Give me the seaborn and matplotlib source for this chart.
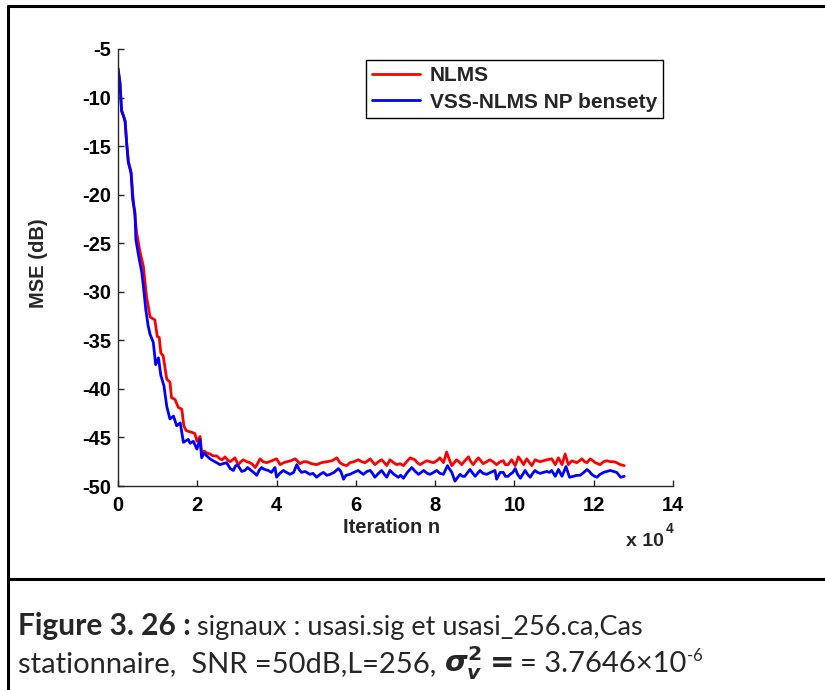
import numpy as np
import pandas as pd
import matplotlib
matplotlib.use("Agg")
import matplotlib.pyplot as plt
import seaborn as sns
from matplotlib.lines import Line2D

# ---------------- data (x in units of 10^4 iterations, MSE in dB) ----------------
nlms_x = [0.00, 0.05, 0.09, 0.14, 0.18, 0.22, 0.26, 0.30, 0.33, 0.37, 0.40, 0.47, 0.55, 0.64,
          0.72, 0.81, 0.93, 0.99, 1.04, 1.08, 1.14, 1.23, 1.31, 1.35, 1.44, 1.52, 1.61, 1.66,
          1.72, 1.80, 1.88, 1.94, 1.99, 2.07, 2.11, 2.17, 2.24, 2.32, 2.40, 2.49, 2.57, 2.63,
          2.70, 2.76, 2.83, 2.95, 3.03, 3.10, 3.16, 3.25, 3.33, 3.40, 3.46, 3.52, 3.58, 3.66,
          3.75, 3.88, 4.00, 4.09, 4.18, 4.26, 4.36, 4.47, 4.59, 4.68, 4.76, 4.88, 5.01, 5.13,
          5.26, 5.40, 5.52, 5.60, 5.68, 5.77, 5.85, 5.95, 6.06, 6.15, 6.23, 6.30, 6.36, 6.42,
          6.48, 6.57, 6.65, 6.72, 6.78, 6.86, 6.95, 7.03, 7.12, 7.20, 7.28, 7.37, 7.49, 7.55,
          7.62, 7.70, 7.79, 7.87, 7.96, 8.04, 8.12, 8.21, 8.29, 8.35, 8.42, 8.48, 8.54, 8.60,
          8.67, 8.75, 8.84, 8.90, 8.96, 9.03, 9.09, 9.15, 9.21, 9.30, 9.38, 9.46, 9.55, 9.64,
          9.72, 9.77, 9.84, 9.93, 10.02, 10.10, 10.17, 10.23, 10.31, 10.38, 10.44, 10.52, 10.58,
          10.65, 10.73, 10.82, 10.94, 11.03, 11.11, 11.20, 11.28, 11.36, 11.45, 11.57, 11.64,
          11.70, 11.77, 11.83, 11.91, 11.98, 12.04, 12.16, 12.25, 12.33, 12.42, 12.50, 12.58,
          12.67, 12.77]
nlms_mse = [-7.0, -8.5, -11.3, -11.9, -12.4, -14.7, -16.5, -17.2, -17.7, -19.8, -21.2, -23.9,
            -25.8, -27.4, -30.5, -32.6, -32.9, -34.6, -34.7, -36.3, -36.6, -39.0, -39.3, -40.9,
            -41.1, -41.9, -42.1, -43.8, -44.3, -44.4, -44.5, -44.6, -45.4, -44.9, -46.6, -46.4,
            -46.6, -46.7, -46.9, -46.9, -47.2, -47.3, -47.0, -47.3, -47.5, -47.1, -47.8, -47.5,
            -47.3, -47.5, -47.6, -47.8, -48.1, -47.7, -47.2, -47.5, -47.6, -47.4, -47.2, -47.8,
            -47.6, -47.5, -47.4, -47.2, -47.7, -47.5, -47.5, -47.7, -47.8, -47.6, -47.5, -47.4,
            -47.1, -47.6, -47.8, -47.9, -47.6, -47.5, -47.3, -47.5, -47.6, -47.4, -47.2, -47.5,
            -47.8, -47.5, -47.3, -47.6, -47.9, -47.3, -47.6, -47.8, -47.7, -47.9, -47.5, -47.1,
            -47.3, -47.6, -47.8, -47.6, -47.4, -47.5, -47.6, -47.4, -47.1, -47.6, -46.5, -47.2,
            -47.9, -47.6, -47.3, -47.5, -47.8, -47.4, -47.0, -47.5, -47.8, -47.4, -47.1, -47.4,
            -47.7, -47.5, -47.3, -47.5, -47.8, -47.5, -47.4, -47.8, -47.8, -47.3, -47.9, -47.0,
            -47.4, -47.8, -47.2, -47.6, -47.9, -47.3, -47.4, -47.5, -47.4, -47.3, -47.2, -47.8,
            -47.1, -47.8, -46.7, -47.8, -47.4, -47.6, -47.4, -47.2, -47.5, -47.6, -47.2, -47.4,
            -47.6, -47.8, -47.5, -47.4, -47.5, -47.5, -47.6, -47.8, -47.9]

vss_x = [0.00, 0.05, 0.09, 0.14, 0.18, 0.22, 0.26, 0.30, 0.33, 0.37, 0.43, 0.45, 0.52, 0.60,
         0.65, 0.70, 0.76, 0.81, 0.89, 0.95, 1.02, 1.08, 1.16, 1.23, 1.31, 1.40, 1.48, 1.57,
         1.65, 1.77, 1.82, 1.90, 1.99, 2.07, 2.11, 2.17, 2.24, 2.32, 2.40, 2.49, 2.57, 2.65,
         2.74, 2.83, 2.91, 2.97, 3.03, 3.12, 3.20, 3.27, 3.33, 3.42, 3.50, 3.56, 3.62, 3.70,
         3.79, 3.87, 3.96, 4.00, 4.08, 4.17, 4.25, 4.34, 4.43, 4.51, 4.57, 4.63, 4.72, 4.84,
         4.92, 5.01, 5.10, 5.18, 5.27, 5.35, 5.45, 5.56, 5.62, 5.69, 5.75, 5.85, 5.95, 6.06,
         6.12, 6.19, 6.28, 6.36, 6.42, 6.48, 6.57, 6.65, 6.72, 6.78, 6.86, 6.96, 7.07, 7.13,
         7.20, 7.30, 7.41, 7.50, 7.58, 7.65, 7.71, 7.80, 7.87, 7.96, 8.04, 8.12, 8.21, 8.31,
         8.37, 8.42, 8.50, 8.57, 8.63, 8.69, 8.75, 8.82, 8.88, 8.95, 9.01, 9.07, 9.13, 9.21,
         9.30, 9.40, 9.51, 9.55, 9.64, 9.72, 9.77, 9.84, 9.89, 9.96, 10.02, 10.08, 10.15,
         10.21, 10.27, 10.33, 10.40, 10.46, 10.52, 10.58, 10.65, 10.73, 10.82, 10.88, 10.94,
         11.03, 11.11, 11.20, 11.30, 11.39, 11.49, 11.57, 11.66, 11.75, 11.83, 11.89, 11.95,
         12.02, 12.08, 12.16, 12.25, 12.33, 12.42, 12.50, 12.58, 12.68, 12.77]
vss_mse = [-7.0, -8.5, -11.4, -11.9, -12.5, -14.8, -16.7, -17.3, -17.8, -20.5, -21.9, -24.6,
           -26.3, -28.0, -29.8, -31.8, -33.5, -34.4, -35.2, -37.5, -36.8, -38.6, -39.7, -41.8,
           -43.1, -42.8, -43.8, -43.5, -45.5, -45.2, -45.6, -45.4, -46.2, -45.2, -47.1, -46.6,
           -46.9, -47.2, -47.4, -47.6, -47.8, -47.7, -47.6, -48.2, -48.4, -47.9, -47.9, -48.5,
           -48.4, -48.1, -48.3, -48.6, -48.9, -48.4, -48.1, -48.3, -48.4, -48.6, -48.1, -49.1,
           -48.7, -48.4, -48.6, -48.8, -48.6, -47.8, -48.3, -48.6, -48.5, -48.8, -48.7, -49.1,
           -48.8, -48.6, -48.9, -48.8, -48.6, -48.2, -48.5, -49.3, -48.9, -48.8, -48.6, -48.4,
           -48.6, -48.8, -48.5, -48.4, -48.7, -49.1, -48.7, -48.4, -48.8, -49.1, -48.4, -48.8,
           -49.1, -48.9, -49.2, -48.6, -48.1, -48.5, -48.8, -48.6, -48.4, -48.7, -48.8, -48.6,
           -48.4, -48.7, -48.8, -47.9, -48.3, -48.6, -49.5, -49.1, -48.8, -49.0, -49.0, -48.6,
           -48.3, -48.7, -49.0, -48.7, -48.4, -48.7, -48.8, -48.6, -48.4, -49.3, -48.6, -48.6,
           -49.0, -49.0, -48.8, -48.6, -48.2, -48.8, -49.2, -48.8, -48.4, -48.8, -49.1, -48.7,
           -48.4, -48.6, -48.7, -48.6, -48.5, -48.6, -48.4, -49.0, -48.3, -49.0, -48.0, -49.1,
           -49.0, -48.9, -48.9, -48.6, -48.3, -48.5, -48.8, -49.0, -49.1, -48.8, -48.6, -48.5,
           -48.4, -48.5, -48.6, -49.1, -49.0]

series_names = ["NLMS", "VSS-NLMS NP bensety"]
series_colors = ["#ff0000", "#0000ff"]
x_ticks = [0, 2, 4, 6, 8, 10, 12, 14]
y_ticks = [-50, -45, -40, -35, -30, -25, -20, -15, -10, -5]

df = pd.concat([
    pd.DataFrame({"x": nlms_x, "mse": nlms_mse, "algo": series_names[0]}),
    pd.DataFrame({"x": vss_x, "mse": vss_mse, "algo": series_names[1]}),
], ignore_index=True)

# ---------------- style ----------------
sns.set_theme(style="white")
plt.rcParams["font.family"] = ["Liberation Sans", "DejaVu Sans"]
plt.rcParams["font.weight"] = "bold"
plt.rcParams["axes.labelweight"] = "bold"
plt.rcParams["mathtext.fontset"] = "dejavusans"

W, H = 825, 690
fig = plt.figure(figsize=(W / 100, H / 100), dpi=100)
ax = fig.add_axes([118 / W, 1 - 486 / H, (673 - 118) / W, (486 - 49) / H])

sns.lineplot(data=df, x="x", y="mse", hue="algo", hue_order=series_names,
             palette=dict(zip(series_names, series_colors)), estimator=None,
             sort=False, linewidth=2.0, legend=False, ax=ax)

ax.set_xlim(0, 14)
ax.set_ylim(-50, -5)
ax.set_xticks(x_ticks)
ax.set_yticks(y_ticks)
ax.set_xticklabels([str(t) for t in x_ticks])
ax.set_yticklabels([str(t) for t in y_ticks])
for s in ["top", "right"]:
    ax.spines[s].set_visible(False)
for s in ["left", "bottom"]:
    ax.spines[s].set_color("#262626")
    ax.spines[s].set_linewidth(1.0)
ax.tick_params(axis="both", which="major", direction="in", length=4, width=1,
               color="#262626", labelsize=14.5, labelcolor="black")
ax.tick_params(axis="x", pad=7)
ax.tick_params(axis="y", pad=5)
ax.tick_params(left=True, bottom=True)

ax.set_xlabel("Iteration n", fontsize=14.5, fontweight="bold")
ax.set_ylabel("MSE (dB)", fontsize=14.5, fontweight="bold")
ax.xaxis.set_label_coords((392 - 118) / 555, (486 - 518) / 437)
ax.yaxis.set_label_coords((48 - 118) / 555, 0.51)

# exponent text
fig.text(626 / W, 1 - 546 / H, "x 10", fontsize=14, fontweight="bold", ha="left", va="baseline")
fig.text(666 / W, 1 - 533 / H, "4", fontsize=10, fontweight="bold", ha="left", va="baseline")

# legend
handles = [Line2D([0], [0], color=c, lw=2.0) for c in series_colors]
leg = ax.legend(handles, series_names, loc="upper left",
                bbox_to_anchor=(366 / W, 1 - 60 / H), bbox_transform=fig.transFigure,
                prop={"size": 15, "weight": "bold"}, frameon=True, fancybox=False,
                edgecolor="black", framealpha=1, borderpad=0.3, labelspacing=0.35,
                handlelength=2.3, handletextpad=0.45, borderaxespad=0)
leg.get_frame().set_linewidth(1.0)

# figure border / caption box
lw = 2.2
fig.add_artist(Line2D([8 / W, 1], [1 - 6 / H, 1 - 6 / H], transform=fig.transFigure, color="black", lw=lw))
fig.add_artist(Line2D([8 / W, 8 / W], [0, 1 - 6 / H], transform=fig.transFigure, color="black", lw=lw))
fig.add_artist(Line2D([8 / W, 1], [1 - 579 / H, 1 - 579 / H], transform=fig.transFigure, color="black", lw=lw))

cap_font = ["Lato", "DejaVu Sans"]
y1, y2 = 1 - 635 / H, 1 - 672 / H


def flow(x_px, y, s, gap=0, **kw):
    t = fig.text((x_px + gap) / W, y, s, family=cap_font, ha="left", va="baseline", **kw)
    fig.canvas.draw()
    return t.get_window_extent(renderer=fig.canvas.get_renderer()).x1


x = flow(18, y1, "Figure 3. 26 :", fontsize=21.5, fontweight="bold")
flow(x, y1, "signaux : usasi.sig et usasi_256.ca,Cas", gap=6, fontsize=19.5, fontweight="normal")

x = flow(18, y2, "stationnaire,  SNR =50dB,L=256,", fontsize=21, fontweight="normal")
x = flow(x, y2, r"$\boldsymbol{\sigma_v^2} =$", gap=8, fontsize=21, fontweight="normal")
x = flow(x, y2, "= 3.7646×10", gap=7, fontsize=21, fontweight="normal")
flow(x, 1 - 661 / H, "-6", gap=1, fontsize=12, fontweight="normal")

fig.savefig("out.png", dpi=100)
